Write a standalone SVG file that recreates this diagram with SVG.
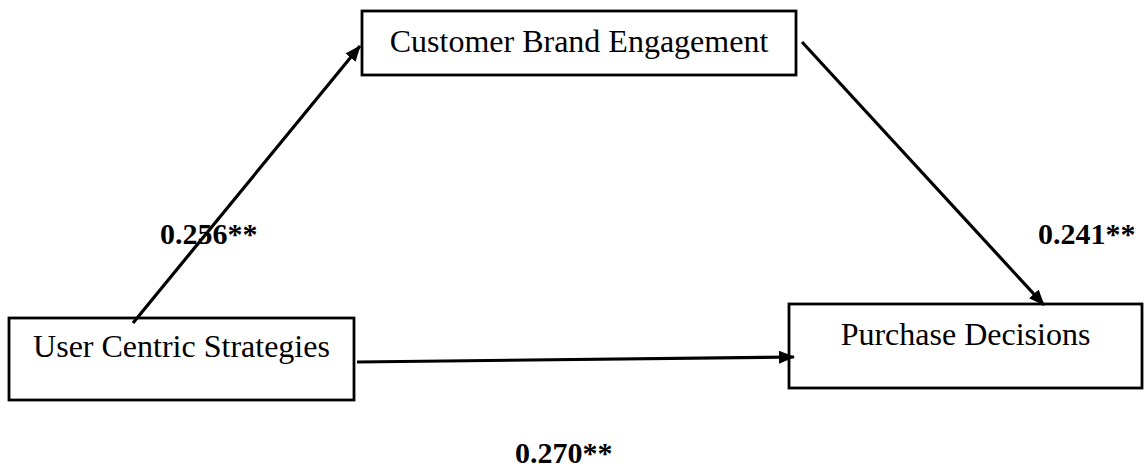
<svg xmlns="http://www.w3.org/2000/svg" width="1146" height="473" viewBox="0 0 1146 473">
  <style>
    .box { fill: #fff; stroke: #000; stroke-width: 2.8; }
    .node-text { font-family: "Liberation Serif", "Times New Roman", serif; font-size: 32px; fill: #000; text-anchor: middle; }
    .coef { font-family: "Liberation Serif", "Times New Roman", serif; font-size: 30px; font-weight: bold; fill: #000; }
    .path { stroke: #000; stroke-width: 3.2; fill: none; marker-end: url(#head); }
  </style>
  <defs>
    <!-- solid triangular arrowhead, sized in user units -->
    <marker id="head" viewBox="0 0 16 13" refX="15" refY="6.5" markerWidth="16" markerHeight="13" markerUnits="userSpaceOnUse" orient="auto">
      <path d="M0,0 L16,6.5 L0,13 z" fill="#000"/>
    </marker>
  </defs>
  <rect width="1146" height="473" fill="#fff"/>

  <g id="node-cbe">
    <rect class="box" x="362" y="11" width="434" height="64"/>
    <text class="node-text" x="579" y="52">Customer Brand Engagement</text>
  </g>

  <g id="node-ucs">
    <rect class="box" x="9" y="318" width="345" height="82"/>
    <text class="node-text" x="181.5" y="357">User Centric Strategies</text>
  </g>

  <g id="node-pd">
    <rect class="box" x="789" y="304" width="353" height="84"/>
    <text class="node-text" x="965.5" y="345">Purchase Decisions</text>
  </g>

  <g id="connectors">
    <line class="path" x1="133" y1="323" x2="360" y2="46"/>
    <line class="path" x1="802" y1="42" x2="1044" y2="305"/>
    <line class="path" x1="357" y1="362" x2="794" y2="357"/>
  </g>

  <g id="labels">
    <text class="coef" x="160" y="244">0.256**</text>
    <text class="coef" x="1038" y="244">0.241**</text>
    <text class="coef" x="515" y="463">0.270**</text>
  </g>
</svg>
